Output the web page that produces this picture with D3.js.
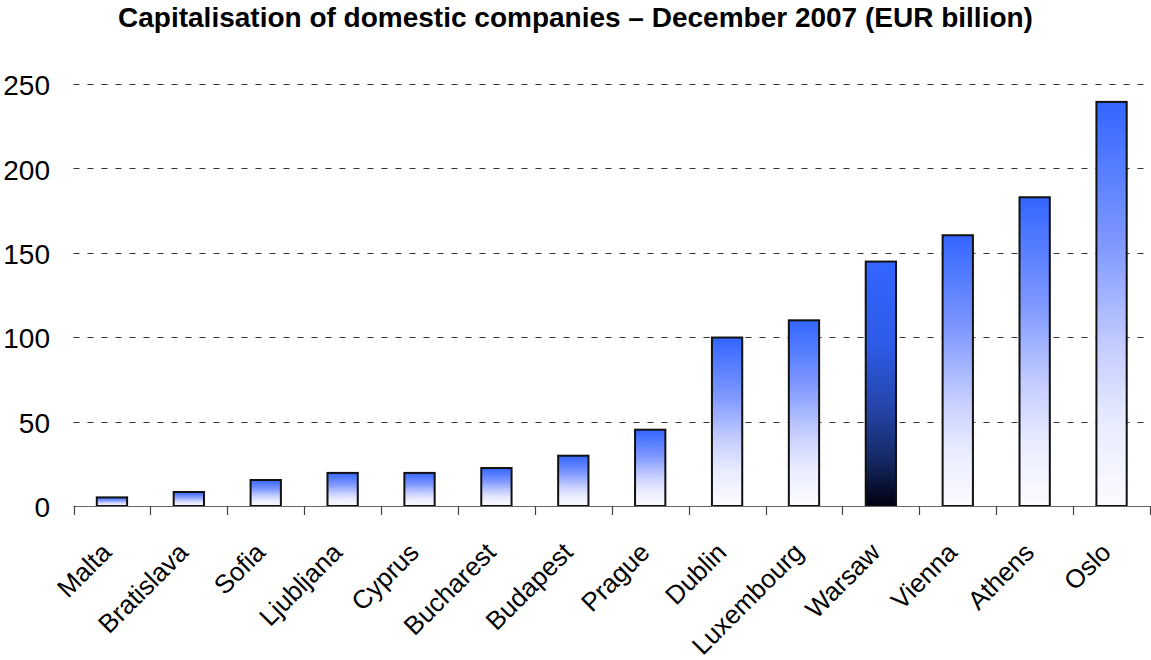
<!DOCTYPE html>
<html>
<head>
<meta charset="utf-8">
<script src="https://cdn.jsdelivr.net/npm/d3@7/dist/d3.min.js"></script>
<style>
  html, body { margin: 0; padding: 0; background: #fff; }
  svg { display: block; }
  text { font-family: Arial, "Liberation Sans", sans-serif; fill: #000; }
</style>
</head>
<body>
<svg id="chart" width="1151" height="660"></svg>
<script>
const title = "Capitalisation of domestic companies \u2013 December 2007 (EUR billion)";
const categories = ["Malta", "Bratislava", "Sofia", "Ljubljana", "Cyprus", "Bucharest", "Budapest", "Prague", "Dublin", "Luxembourg", "Warsaw", "Vienna", "Athens", "Oslo"];
const values = [5.1, 8.3, 15.4, 19.6, 19.6, 22.5, 29.8, 45.2, 99.8, 110.0, 144.8, 160.4, 182.9, 239.4];
const highlighted = ["Warsaw"];
const yTicks = [0, 50, 100, 150, 200, 250];

const svg = d3.select("#chart");
const W = 1151, H = 660;
const plot = { left: 73.5, right: 1150, top: 84, bottom: 506 };

const x = d3.scaleBand().domain(categories).range([plot.left, plot.right]).paddingInner(0.58).paddingOuter(0.29);
const y = d3.scaleLinear().domain([0, 250]).range([plot.bottom, plot.top]);

const defs = svg.append("defs");
const gBlue = defs.append("linearGradient").attr("id", "gBlue").attr("x1", 0).attr("y1", 0).attr("x2", 0).attr("y2", 1);
[[0, "#3366FF"], [0.35, "#7f98ff"], [0.6, "#c3ccff"], [0.8, "#eaedff"], [1, "#fbfbff"]].forEach(([o, c]) =>
  gBlue.append("stop").attr("offset", o).attr("stop-color", c));
const gDark = defs.append("linearGradient").attr("id", "gDark").attr("x1", 0).attr("y1", 0).attr("x2", 0).attr("y2", 1);
[[0, "#3366FF"], [0.35, "#2e5be6"], [0.6, "#2444a8"], [0.82, "#142760"], [1, "#000010"]].forEach(([o, c]) =>
  gDark.append("stop").attr("offset", o).attr("stop-color", c));

// title
svg.append("text").attr("x", W / 2).attr("y", 27).attr("text-anchor", "middle")
  .style("font-size", "28px").style("font-weight", "bold").text(title);

// gridlines
svg.append("g").selectAll("line").data(yTicks.filter(t => t > 0)).join("line")
  .attr("x1", plot.left).attr("x2", plot.right)
  .attr("y1", d => Math.round(y(d)) + 0.5).attr("y2", d => Math.round(y(d)) + 0.5)
  .attr("stroke", "#333").attr("stroke-width", 1).attr("stroke-dasharray", "6,8");

// y labels
svg.append("g").selectAll("text").data(yTicks).join("text")
  .attr("x", 50).attr("y", d => y(d)).attr("dy", "0.4em").attr("text-anchor", "end")
  .style("font-size", "28px").text(d => d);

// bars
svg.append("g").selectAll("rect").data(categories).join("rect")
  .attr("x", d => x(d) + 1).attr("width", x.bandwidth() - 2)
  .attr("y", (d, i) => y(values[i])).attr("height", (d, i) => y(0) - y(values[i]))
  .attr("fill", d => highlighted.includes(d) ? "url(#gDark)" : "url(#gBlue)")
  .attr("stroke", "#111").attr("stroke-width", 2);

// x axis
const ax = svg.append("g");
ax.append("line").attr("x1", plot.left).attr("x2", plot.right)
  .attr("y1", plot.bottom + 0.5).attr("y2", plot.bottom + 0.5).attr("stroke", "#666").attr("stroke-width", 1.2);
const bounds = d3.range(categories.length + 1).map(i => plot.left + i * x.step());
ax.selectAll("line.tick").data(bounds).join("line").attr("class", "tick")
  .attr("x1", d => Math.round(d) + 0.5).attr("x2", d => Math.round(d) + 0.5)
  .attr("y1", plot.bottom).attr("y2", plot.bottom + 9).attr("stroke", "#444").attr("stroke-width", 1.2);

// x labels
svg.append("g").selectAll("text").data(categories).join("text")
  .attr("text-anchor", "end")
  .attr("transform", d => `translate(${x(d) + x.bandwidth() / 2 + 1},${554}) rotate(-45)`)
  .style("font-size", "26px").text(d => d);
</script>
</body>
</html>
